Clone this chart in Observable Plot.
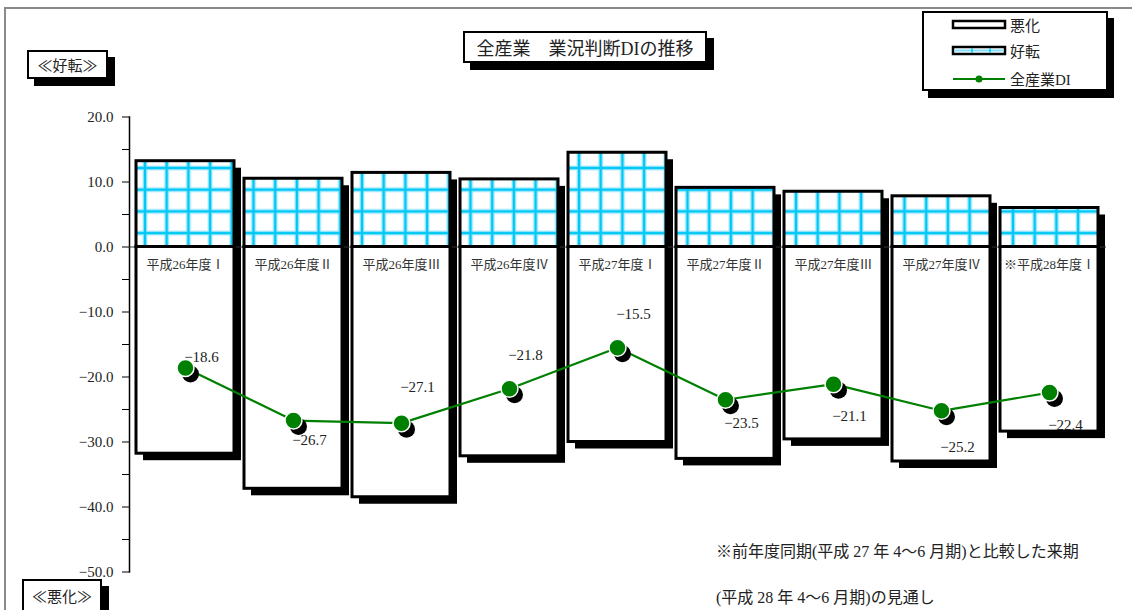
<!DOCTYPE html>
<html><head><meta charset="utf-8">
<script src="https://cdn.jsdelivr.net/npm/d3@7"></script>
<script src="https://cdn.jsdelivr.net/npm/@observablehq/plot@0.6"></script>
<style>
html,body{margin:0;padding:0;background:#fff;}
#wrap{position:relative;width:1132px;height:610px;overflow:hidden;font-family:'Liberation Serif','Noto Sans CJK JP',serif;color:#222;}
.box{position:absolute;background:#fff;border:2.5px solid #000;box-shadow:7px 7px 0 #000;box-sizing:border-box;display:flex;align-items:center;justify-content:center;}
.frameL{position:absolute;left:4px;top:8px;width:2px;height:610px;background:#8a8a8a;}
.frameT{position:absolute;left:4px;top:7px;width:1130px;height:2px;background:#8a8a8a;}
.note{position:absolute;font-size:16px;white-space:nowrap;color:#222;}
.leg{position:absolute;left:953px;font-size:15px;}
</style></head>
<body><div id="wrap"></div>
<script>
const categories = ["平成26年度Ⅰ","平成26年度Ⅱ","平成26年度Ⅲ","平成26年度Ⅳ","平成27年度Ⅰ","平成27年度Ⅱ","平成27年度Ⅲ","平成27年度Ⅳ","※平成28年度Ⅰ"];
const improved = [13.2, 10.5, 11.4, 10.4, 14.5, 9.1, 8.5, 7.8, 6.0];
const worsened = [31.8, 37.2, 38.5, 32.2, 30.0, 32.6, 29.6, 33.0, 28.4];
const di = [-18.6, -26.7, -27.1, -21.8, -15.5, -23.5, -21.1, -25.2, -22.4];
const yTicks = [-50,-45,-40,-35,-30,-25,-20,-15,-10,-5,0,5,10,15,20];

const labelDy = [-11, 20, -36, -34, -34, 23, 32, 36, 33];
const fmt = v => (v < 0 ? "−" : "") + Math.abs(v).toFixed(1);

const rows = categories.map((c, i) => ({cat: c, good: improved[i], bad: -worsened[i], di: di[i]}));

const svg = Plot.plot({
  width: 1132, height: 610,
  marginLeft: 129, marginRight: 26, marginTop: 116.5, marginBottom: 38.5,
  style: {fontFamily: "'Liberation Serif','Noto Sans CJK JP',serif", fontSize: "15px", background: "transparent", color: "#222"},
  x: {domain: categories, paddingInner: 0.09, paddingOuter: 0.045, axis: null},
  y: {domain: [-50, 20], axis: null},
  marks: [
    Plot.axisY({ticks: yTicks, tickSize: 7, tickPadding: 9, tickFormat: d => d % 10 === 0 ? fmt(d) : "", stroke: "#000", fill: "#222", fontSize: 15}),
    Plot.frame({anchor: "left", stroke: "#000", strokeWidth: 1.5}),
    Plot.barY(rows, {x: "cat", y1: "bad", y2: "good", fill: "#000", dx: 7, dy: 7}),
    Plot.ruleY([0], {stroke: "#333", strokeWidth: 1}),
    Plot.barY(rows, {x: "cat", y1: 0, y2: "bad", fill: "#fff", stroke: "#000", strokeWidth: 3}),
    Plot.barY(rows, {x: "cat", y1: 0, y2: "good", fill: "url(#cyangrid)", stroke: "#000", strokeWidth: 3}),
    Plot.text(rows, {x: "cat", y: 0, text: "cat", dy: 18, fontSize: 13, fill: "#333"}),
    Plot.line(rows, {x: "cat", y: "di", stroke: "#008000", strokeWidth: 2.2}),
    Plot.dot(rows, {x: "cat", y: "di", r: 8.5, fill: "#000", dx: 5, dy: 6}),
    Plot.dot(rows, {x: "cat", y: "di", r: 8.5, fill: "#008000", stroke: "#fff", strokeWidth: 1.5}),
    ...rows.map((d, i) => Plot.text([d], {x: "cat", y: "di", text: r => fmt(r.di), dx: 16, dy: labelDy[i], fontSize: 15, fill: "#222"}))
  ]
});

// cyan grid pattern
const defs = d3.select(svg).insert("defs", ":first-child");
const p = 21.7;
const pat = defs.append("pattern").attr("id", "cyangrid").attr("patternUnits", "userSpaceOnUse")
  .attr("x", 145 - p/2).attr("y", 168 - p/2).attr("width", p).attr("height", p);
pat.append("rect").attr("width", p).attr("height", p).attr("fill", "#fff");
pat.append("line").attr("x1", 0).attr("x2", p).attr("y1", p/2).attr("y2", p/2).attr("stroke", "#b5ecff").attr("stroke-width", 5);
pat.append("line").attr("y1", 0).attr("y2", p).attr("x1", p/2).attr("x2", p/2).attr("stroke", "#b5ecff").attr("stroke-width", 5);
pat.append("line").attr("x1", 0).attr("x2", p).attr("y1", p/2).attr("y2", p/2).attr("stroke", "#00c8f5").attr("stroke-width", 2.5);
pat.append("line").attr("y1", 0).attr("y2", p).attr("x1", p/2).attr("x2", p/2).attr("stroke", "#00c8f5").attr("stroke-width", 2.5);

svg.style.position = "absolute";
svg.style.left = "0px";
svg.style.top = "0px";
const wrap = document.getElementById("wrap");
wrap.innerHTML = `
<div class="frameL"></div><div class="frameT"></div>
<div class="box" style="left:463px;top:31px;width:244px;height:32px;font-size:18px;">全産業　業況判断DIの推移</div>
<div class="box" style="left:27px;top:50px;width:81px;height:29px;font-size:15px;">≪好転≫</div>
<div class="box" style="left:22px;top:579px;width:80px;height:40px;font-size:15px;align-items:flex-start;padding-top:4px;">≪悪化≫</div>
<div class="box" style="left:922px;top:11px;width:186px;height:80px;box-shadow:6px 7px 0 #000;"></div>
<svg style="position:absolute;left:950px;top:14px" width="60" height="76">
  <rect x="3" y="7" width="52" height="7" fill="#fff" stroke="#000" stroke-width="2.5"/>
  <rect x="3" y="33" width="52" height="7" fill="#fff" stroke="#000" stroke-width="2.5"/>
  <line x1="4" x2="54" y1="36.5" y2="36.5" stroke="#7fe0ff" stroke-width="2"/>
  <line x1="22" x2="22" y1="34" y2="39" stroke="#00c8f5" stroke-width="1.5"/>
  <line x1="40" x2="40" y1="34" y2="39" stroke="#00c8f5" stroke-width="1.5"/>
  <line x1="3" x2="55" y1="65" y2="65" stroke="#008000" stroke-width="2.2"/>
  <circle cx="29" cy="65" r="3.5" fill="#008000"/>
</svg>
<div class="leg" style="left:1010px;top:14px;">悪化</div>
<div class="leg" style="left:1010px;top:40px;">好転</div>
<div class="leg" style="left:1010px;top:68px;">全産業DI</div>
<div class="note" style="left:716px;top:538px;">※前年度同期(平成 27 年 4～6 月期)と比較した来期</div>
<div class="note" style="left:716px;top:584px;">(平成 28 年 4～6 月期)の見通し</div>
`;
wrap.prepend(svg);
</script>
</body></html>
